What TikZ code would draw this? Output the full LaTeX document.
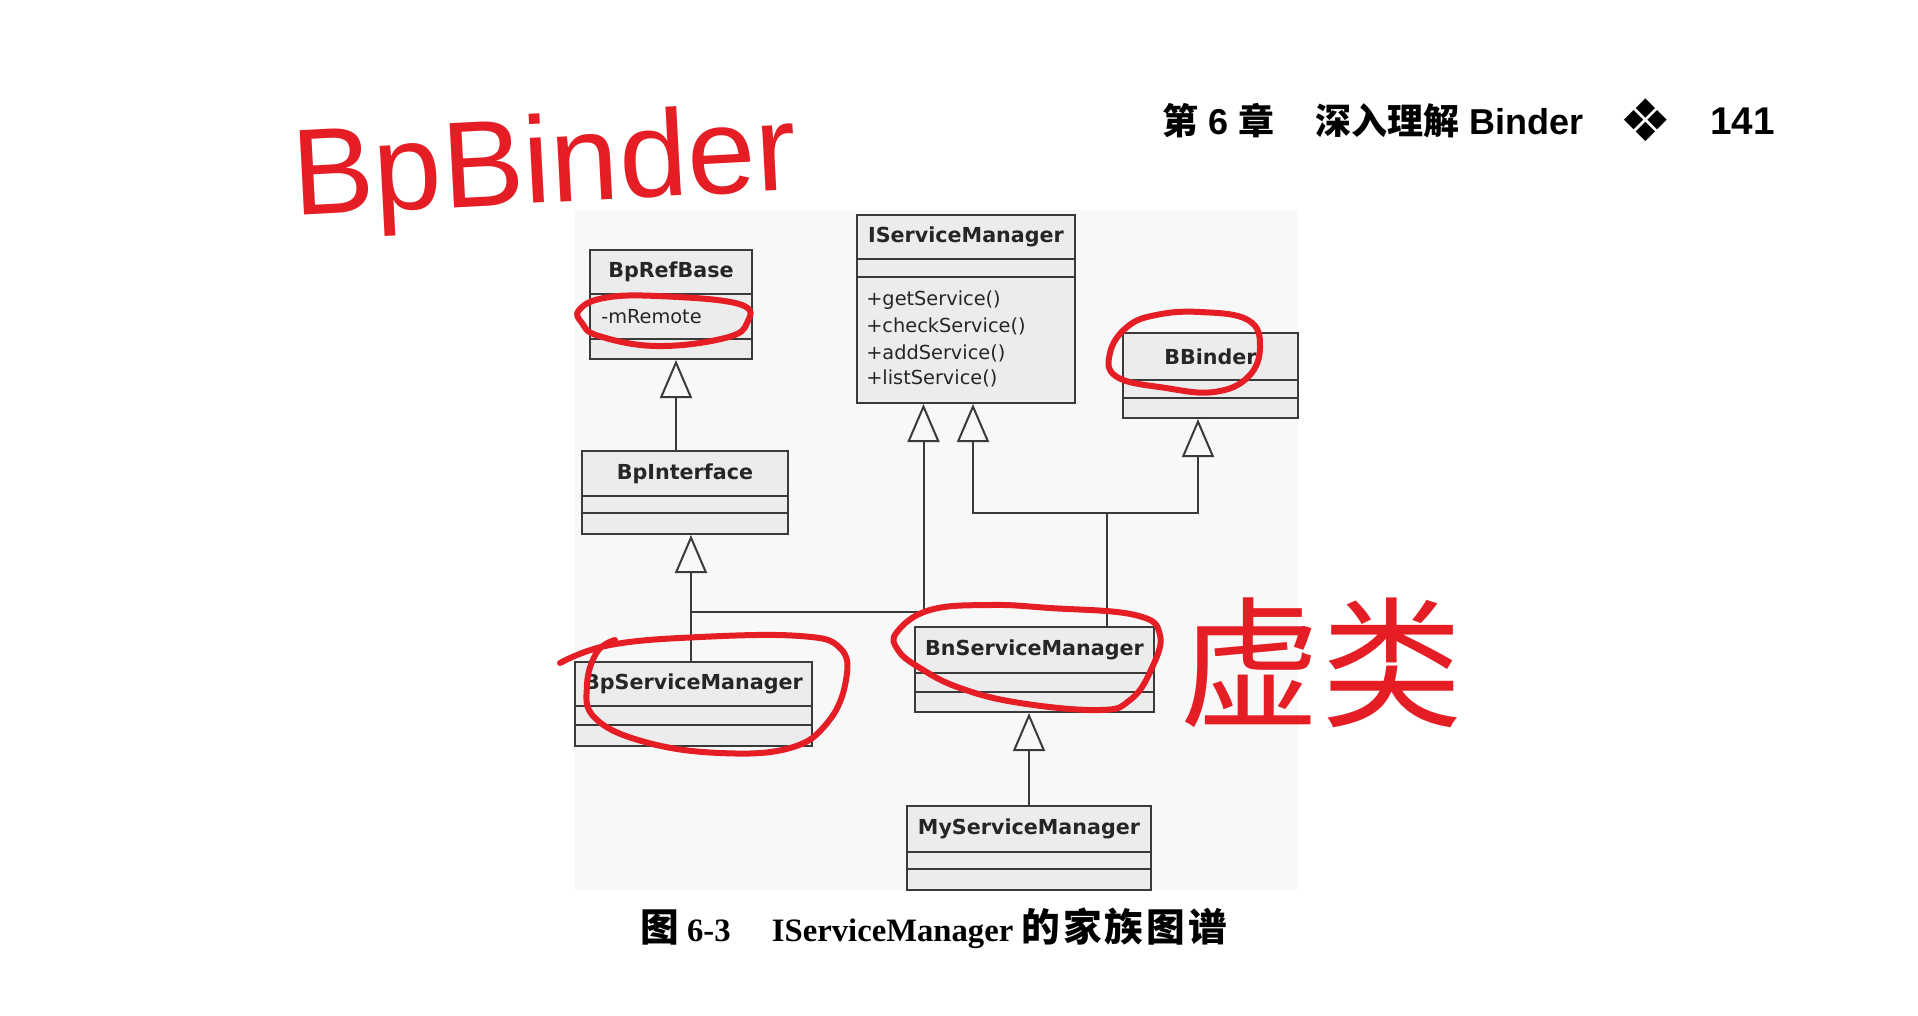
\documentclass[tikz,border=0pt]{standalone}
\usepackage{fontspec}
\setmainfont{DejaVu Sans}
\newfontfamily\umlfont{DejaVu Sans}
\newfontfamily\cjk{Noto Sans CJK SC}
\newfontfamily\cjkcap[LetterSpace=8]{Noto Sans CJK SC}
\newfontfamily\arialf{Liberation Sans}
\newfontfamily\capserif{Liberation Serif}
\newfontfamily\symf{DejaVu Sans}
\usetikzlibrary{arrows.meta,calc}
\definecolor{pen}{RGB}{228,30,36}
\definecolor{ink}{RGB}{58,58,58}
\definecolor{boxfill}{RGB}{236,236,236}
\definecolor{scan}{RGB}{248,248,248}
\tikzset{
  umlbox/.style={draw=ink, line width=1.5pt, fill=boxfill, inner sep=0pt, rectangle},
  umlline/.style={draw=ink, line width=1.5pt},
  umltitle/.style={font=\umlfont\bfseries\fontsize{15.5}{18}\selectfont, text=black!85, inner sep=0pt},
  umlmember/.style={font=\umlfont\fontsize{14.5}{17}\selectfont, text=black!85, inner sep=0pt, anchor=west},
  conn/.style={draw=ink, line width=1.5pt},
  inh/.style={conn, -{Triangle[open, length=28.5pt, width=24pt]}},
  redpen/.style={draw=pen, line width=4.5pt, line cap=round, line join=round},
  hdr/.style={inner sep=0pt, anchor=base west, font=\bfseries\fontsize{27}{30}\selectfont},
}
\newcommand{\umlclass}[8]{%
  \node[umlbox, minimum width={(#4-#2)*0.75pt}, minimum height={(#5-#3)*0.75pt}] (#1) at ({(#2+#4)/2},{(#3+#5)/2}) {};
  \draw[umlline] (#2,#6) -- (#4,#6);
  \draw[umlline] (#2,#7) -- (#4,#7);
  \node[umltitle] (#1-t) at ({(#2+#4)/2},{(#3+#6)/2}) {#8};
}
\begin{document}
\begin{tikzpicture}[x=0.75pt, y=-0.75pt]
\useasboundingbox (0,0) rectangle (1918,1015);
\fill[white] (0,0) rectangle (1918,1015);
\fill[scan] (575,210) rectangle (1298,890);

% classes
\umlclass{bprb}{590}{250}{752}{359}{294}{339}{BpRefBase}
\umlclass{ism}{857}{215}{1075}{403}{259}{277}{IServiceManager}
\umlclass{bb}{1123}{333}{1298}{418}{380}{398}{BBinder}
\umlclass{bpi}{582}{451}{788}{534}{496}{513}{BpInterface}
\umlclass{bpsm}{575}{662}{812}{746}{706}{725}{BpServiceManager}
\umlclass{bnsm}{915}{627}{1154}{712}{673}{692}{BnServiceManager}
\umlclass{mysm}{907}{806}{1151}{890}{852}{869}{MyServiceManager}

\node[umlmember] (bprb-a) at (601,317) {-mRemote};
\node[umlmember] (ism-m1) at (866,300) {+getService()};
\node[umlmember] (ism-m2) at (866,326) {+checkService()};
\node[umlmember] (ism-m3) at (866,353) {+addService()};
\node[umlmember] (ism-m4) at (866,378) {+listService()};

% connector x positions
\coordinate (xa) at (676,0);
\coordinate (xb) at (691,0);
\coordinate (xc) at (923.5,0);
\coordinate (xd) at (973,0);
\coordinate (xe) at (1198,0);
\coordinate (xf) at (1107,0);
\coordinate (xg) at (1029,0);
\coordinate (jbn) at (1107,513);
\coordinate (jbp) at (923.5,612);

\draw[inh] (bpi.north -| xa) -- (bprb.south -| xa);
\draw[inh] (bpsm.north -| xb) -- (bpi.south -| xb);
\draw[conn] (xb |- jbp) -- (jbp);
\draw[inh] (jbp) -- (ism.south -| xc);
\draw[conn] (bnsm.north -| xf) -- (jbn);
\draw[inh] (jbn) -| (ism.south -| xd);
\draw[inh] (jbn) -| (bb.south -| xe);
\draw[inh] (mysm.north -| xg) -- (bnsm.south -| xg);

% header
\node[hdr] (hchap) at (1162,134) {{\cjk 第}{\arialf\ 6\ }{\cjk 章}};
\node[hdr] (htitle) at (1315,134) {{\cjk 深入理解}{\arialf\ Binder}};
\node[inner sep=0pt, font=\symf\fontsize{44}{48}\selectfont] (horn) at (1646,120) {❖};
\node[hdr, font=\arialf\bfseries\fontsize{29}{32}\selectfont] (hpage) at (1710,134) {141};

% caption
\node[inner sep=0pt, anchor=base west] (cap) at (640,941)
  {{\cjk\bfseries\fontsize{29}{32}\selectfont 图}{\capserif\bfseries\fontsize{24.5}{28}\selectfont\ 6-3\hspace{31pt}IServiceManager\ }{\cjkcap\bfseries\fontsize{29}{32}\selectfont 的家族图谱}};

% handwritten annotations
\node[inner sep=0pt, anchor=base west, rotate=3, text=pen, font=\arialf\fontsize{92}{100}\selectfont] (hwbp) at (294,216) {BpBinder};
\node[inner sep=0pt, text=pen, font=\cjk\fontsize{106}{110}\selectfont] (hwxu) at (1321,663) {虚类};

\draw[redpen] plot[smooth cycle, tension=0.7] coordinates {(579,310) (604,298) (657,296) (739,304) (747,323) (725,338) (657,346) (599,336) (582,323)};
\draw[redpen] plot[smooth cycle, tension=0.7] coordinates {(1110,353) (1127,327) (1156,315) (1200,312) (1248,320) (1260,347) (1248,377) (1214,392) (1166,388) (1117,377)};
\draw[redpen] plot[smooth, tension=0.7] coordinates {(560,663) (610,645) (700,637) (800,636) (840,648) (846,680) (828,722) (790,748) (720,753) (645,742) (595,718) (587,685) (597,652) (615,640)};
\draw[redpen] plot[smooth cycle, tension=0.7] coordinates {(897,632) (930,610) (990,605) (1050,608) (1135,615) (1160,635) (1150,672) (1130,700) (1100,710) (1020,703) (960,688) (920,668) (898,650)};
\end{tikzpicture}
\end{document}
